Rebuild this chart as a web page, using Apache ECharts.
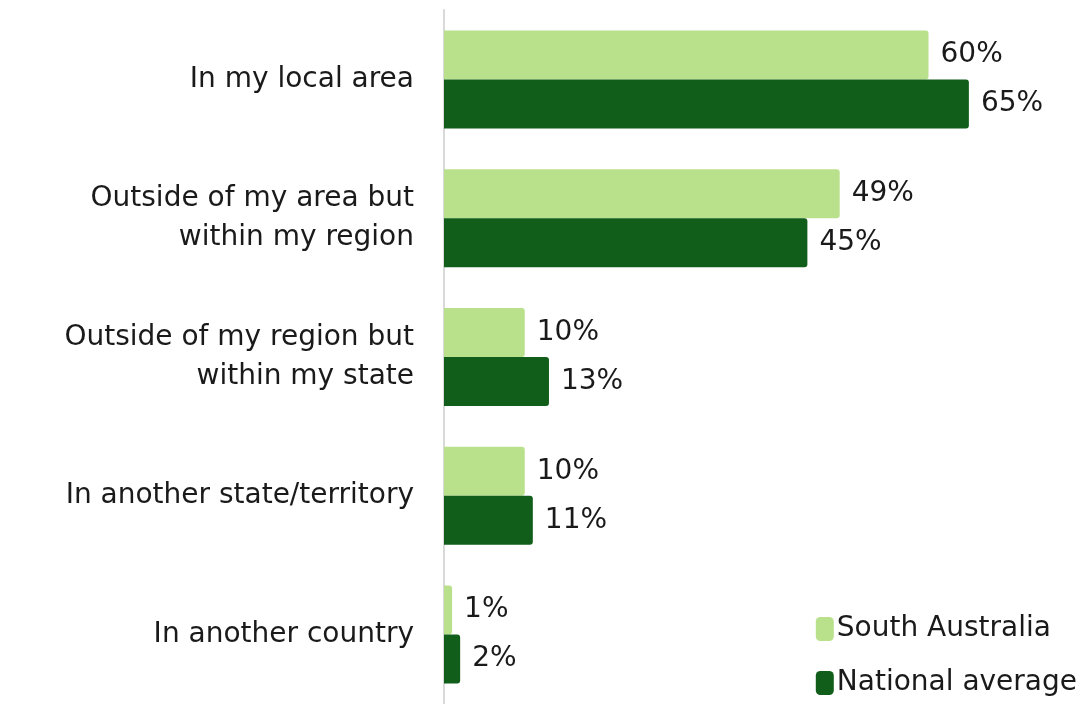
<!DOCTYPE html>
<html>
<head>
<meta charset="utf-8">
<script src="https://cdn.jsdelivr.net/npm/echarts@6/dist/echarts.min.js"></script>
<style>
  html, body { margin: 0; padding: 0; background: #fff; }
  #chart { width: 1090px; height: 704px; }
</style>
</head>
<body>
<div id="chart"></div>
<script>
const categories = [
    'In my local area',
    'Outside of my area but\nwithin my region',
    'Outside of my region but\nwithin my state',
    'In another state/territory',
    'In another country'
]
const southAustralia = [60, 49, 10, 10, 1]
const nationalAverage = [65, 45, 13, 11, 2]

const fontName = 'DejaVu Sans'
const textColor = '#1a1a1a'

const myChart = echarts.init(document.getElementById('chart'))

const labelStyle = {
    show: true,
    position: 'right',
    distance: 12,
    color: textColor,
    fontFamily: fontName,
    fontSize: 28,
    formatter: '{c}%'
}

let option = {
    animation: false,
    grid: {
        left: 444,
        width: 647,
        top: 10,
        bottom: -6
    },
    xAxis: {
        type: 'value',
        min: 0,
        max: 80,
        show: false
    },
    yAxis: {
        type: 'category',
        inverse: true,
        data: categories,
        axisLine: { show: true, lineStyle: { color: '#d9d9d9', width: 2 } },
        axisTick: { show: false },
        axisLabel: {
            color: textColor,
            fontFamily: fontName,
            fontSize: 28,
            lineHeight: 39,
            margin: 30,
            align: 'right'
        }
    },
    legend: {
        orient: 'vertical',
        right: 8,
        bottom: 2,
        icon: 'roundRect',
        itemWidth: 18,
        itemHeight: 24,
        itemGap: 26,
        textStyle: {
            color: textColor,
            fontFamily: fontName,
            fontSize: 28,
            padding: [0, 0, 0, -2]
        },
        data: ['South Australia', 'National average']
    },
    series: [
        {
            name: 'South Australia',
            type: 'bar',
            data: southAustralia,
            barWidth: 49,
            barGap: '0%',
            itemStyle: { color: '#b9e08a', borderRadius: [0, 3, 3, 0] },
            label: labelStyle
        },
        {
            name: 'National average',
            type: 'bar',
            data: nationalAverage,
            barWidth: 49,
            itemStyle: { color: '#115e1b', borderRadius: [0, 3, 3, 0] },
            label: labelStyle
        }
    ]
}
myChart.setOption(option)
</script>
</body>
</html>
